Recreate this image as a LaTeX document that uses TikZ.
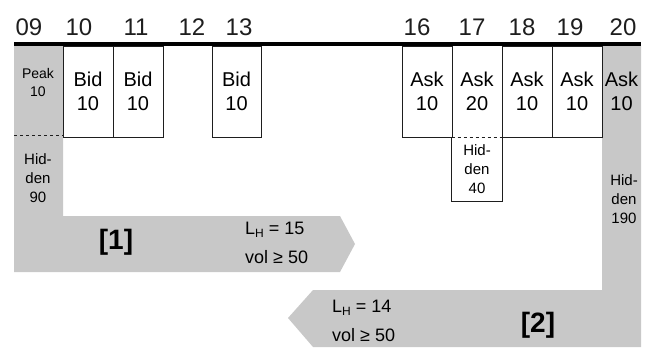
\documentclass[tikz,border=0pt]{standalone}
\usepackage{fontspec}
\setmainfont{Liberation Sans}
\definecolor{bandgrey}{RGB}{200,200,200}
\definecolor{ink}{RGB}{30,30,30}
\newcommand{\LHsub}{L\raisebox{-3pt}{\fontsize{12}{12}\selectfont H}}
\begin{document}
\begin{tikzpicture}[x=1pt,y=-1pt,
  cell/.style={draw=ink, line width=0.9pt, minimum width=50pt, minimum height=91pt, inner sep=0pt, align=center, font=\fontsize{20}{24}\selectfont},
  small/.style={inner sep=0pt, align=center, font=\fontsize{14}{18}\selectfont},
  hid/.style={inner sep=0pt, align=center, font=\fontsize{15}{19}\selectfont},
  toplbl/.style={anchor=base, inner sep=0pt, font=\fontsize{24}{28}\selectfont, text=ink},
  tag/.style={inner sep=0pt, font=\bfseries\fontsize{28}{32}\selectfont},
  cond/.style={anchor=north west, inner sep=0pt, align=left, font=\fontsize{18}{29}\selectfont},
  edge/.style={draw=ink, line width=0.9pt},
  band/.style={fill=bandgrey, draw=none}]
\useasboundingbox (0,0) rectangle (652,348);
% grey hidden-order bands
\path[band] (14,46) -- (63,46) -- (63,216) -- (340,216) -- (355,244) -- (340,272) -- (14,272) -- cycle;
\path[band] (602,46) -- (641,46) -- (641,347) -- (313,347) -- (288,318) -- (313,290) -- (602,290) -- cycle;
% book cells
\node[small] (p09) at (38,82.5) {Peak\\10};
\draw[edge, dashed] (14,135) -- (63,135);
\node[hid] (h09) at (38,178) {Hid-\\den\\90};
\node[cell] (b10) at (88,91.5) {Bid\\10};
\node[cell] (b11) at (138,91.5) {Bid\\10};
\node[cell, minimum width=49pt] (b13) at (236.5,91.5) {Bid\\10};
\node[cell] (a16) at (427,91.5) {Ask\\10};
\node[cell, draw=none] (a17) at (477,91.5) {Ask\\20};
\node[cell] (a18) at (527,91.5) {Ask\\10};
\node[cell] (a19) at (577,91.5) {Ask\\10};
\node[cell, draw=none, minimum width=39pt] (a20) at (621.5,91.5) {Ask\\10};
\draw[edge, dashed] (a17.south west) -- (a17.south east);
\node[hid, minimum width=50pt, minimum height=64pt] (h17) at (477,169) {Hid-\\den\\40};
\draw[edge] (h17.north west) -- (h17.south west) -- (h17.south east) -- (h17.north east);
\node[hid] (h20) at (624,199) {Hid-\\den\\190};
% price axis
\draw[line width=4pt] (14,44) -- (641,44);
\node[toplbl] (l09) at (29,35) {09};
\node[toplbl] (l10) at (79,35) {10};
\node[toplbl] (l11) at (136,35) {11};
\node[toplbl] (l12) at (192,35) {12};
\node[toplbl] (l13) at (239,35) {13};
\node[toplbl] (l16) at (417,35) {16};
\node[toplbl] (l17) at (472,35) {17};
\node[toplbl] (l18) at (522,35) {18};
\node[toplbl] (l19) at (570,35) {19};
\node[toplbl] (l20) at (623,35) {20};
% band labels
\node[tag] (t1) at (116,242) {[1]};
\node[tag] (t2) at (538,325) {[2]};
\node[cond] (c1) at (245,222) {\LHsub{} = 15\\vol ≥ 50};
\node[cond] (c2) at (332,300) {\LHsub{} = 14\\vol ≥ 50};
\end{tikzpicture}
\end{document}
